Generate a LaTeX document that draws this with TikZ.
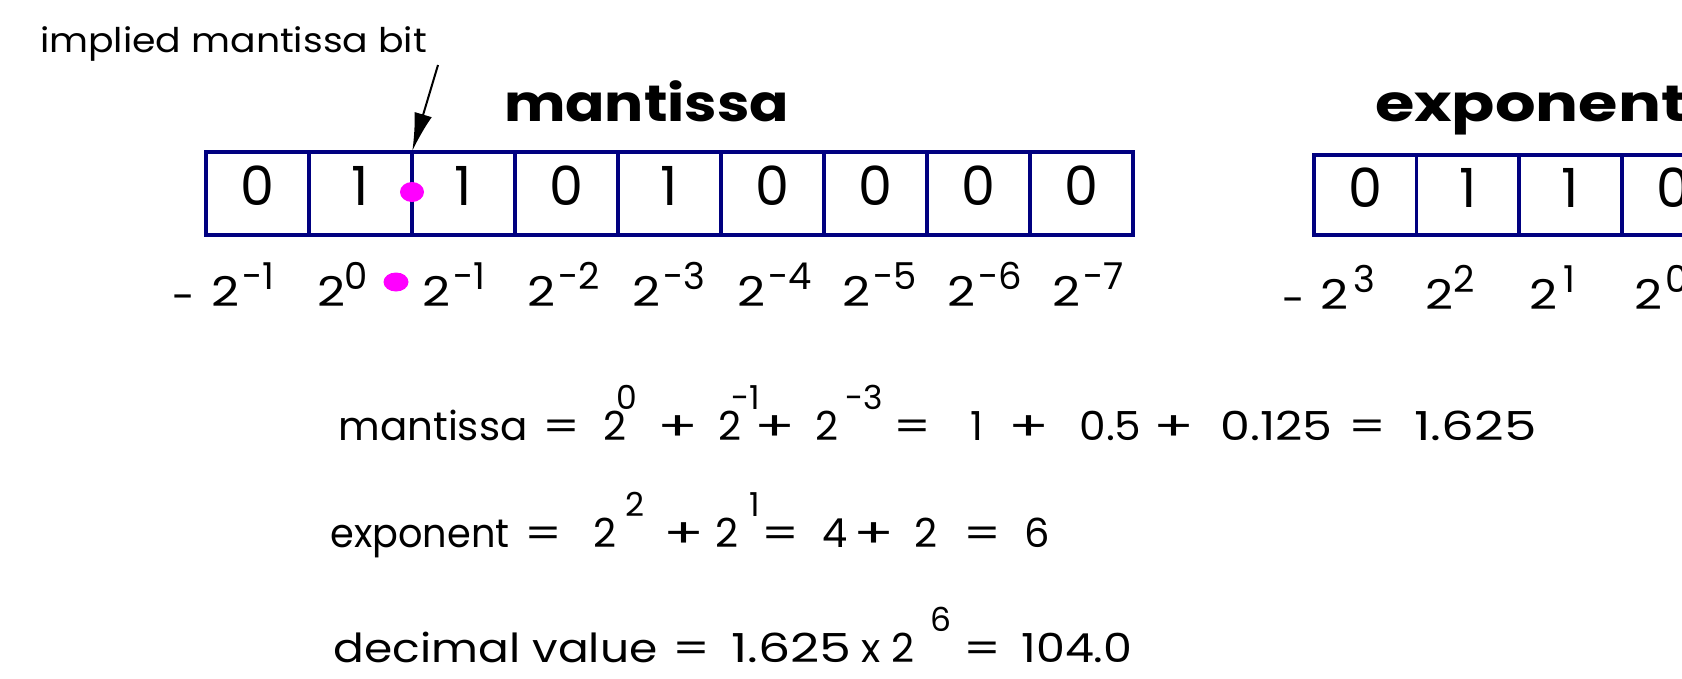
\documentclass[tikz,border=0pt]{standalone}
\usepackage{fontspec}
\setmainfont{Poppins}
\usetikzlibrary{arrows.meta}
\definecolor{navybox}{RGB}{0,0,128}
\definecolor{pinkdot}{RGB}{255,0,255}
\newcommand{\fitw}[2]{\resizebox{#1pt}{\height}{#2}}
\newcommand{\at}[2]{\rlap{\hspace*{#1pt}#2}}
\newcommand{\esup}[2]{\at{#1}{\raisebox{31pt}{\fontsize{33}{33}\selectfont #2}}}
\newcommand{\lsup}[2]{\at{#1}{\raisebox{17pt}{\fontsize{37}{37}\selectfont #2}}}
\newcommand{\EQ}[1]{\at{#1}{\fitw{38}{=}}}
\newcommand{\PL}[1]{\at{#1}{\fitw{41}{+}}}
\newcommand{\LT}{\at{0}{\fitw{28}{2}}}
\begin{document}
\begin{tikzpicture}[x=1pt,y=-1pt,
  cell/.style={draw=navybox, line width=3.5pt, minimum width=103pt, minimum height=83pt,
    inner sep=0pt, outer sep=0pt, font=\fontsize{54}{54}\selectfont, text height=38pt, text depth=15pt},
  ecell/.style={cell, minimum width=102.6pt, minimum height=80pt, text depth=14pt},
  txt/.style={inner sep=0pt, outer sep=0pt, anchor=base west},
  eqn/.style={txt, font=\fontsize{40}{40}\selectfont},
  lab/.style={txt, font=\fontsize{41}{41}\selectfont},
  title/.style={txt, font=\fontsize{51}{51}\selectfont\bfseries},
  dot/.style={fill=pinkdot}]
\useasboundingbox (0,0) rectangle (1682,678);
\clip (0,0) rectangle (1682,678);

% annotation
\node[txt, font=\fontsize{34}{34}\selectfont] (imp) at (40,52) {\fitw{387}{implied mantissa bit}};

% titles
\node[title] (tman) at (504,121) {\fitw{285}{mantissa}};
\node[title] (texp) at (1375,121) {\fitw{312}{exponent}};

% mantissa cells
\foreach \d [count=\i from 0] in {0,1,1,0,1,0,0,0,0}
  \node[cell] (m\i) at ({257.5+103*\i},193.5) {\d};
% exponent cells
\foreach \d [count=\i from 0] in {0,1,1,0}
  \node[ecell] (e\i) at ({1365.3+102.6*\i},195) {\d};

% arrow
\coordinate (arrowtail) at (438,65);
\draw[line width=2pt, -{Latex[length=38pt,width=18pt]}, shorten >=1pt] (arrowtail) -- (m1.north east);

% dots
\fill[dot] ([yshift=1.5pt]m1.east) ellipse [x radius=12, y radius=10];
\fill[dot] (396,282) ellipse [x radius=12.5, y radius=9.5];

% mantissa labels
\node[lab] (mneg) at (172,311) {-};
\node[lab] (l0) at (211,306) {\LT\lsup{31}{-1}};
\node[lab] (l1) at (317,306) {\LT\lsup{27}{0}};
\node[lab] (l2) at (422,306) {\LT\lsup{31}{-1}};
\node[lab] (l3) at (527,306) {\LT\lsup{31}{-2}};
\node[lab] (l4) at (632,306) {\LT\lsup{31}{-3}};
\node[lab] (l5) at (737,306) {\LT\lsup{31}{-4}};
\node[lab] (l6) at (842,306) {\LT\lsup{31}{-5}};
\node[lab] (l7) at (947,306) {\LT\lsup{31}{-6}};
\node[lab] (l8) at (1052,306) {\LT\lsup{31}{-7}};

% exponent labels
\node[lab] (eneg) at (1282,314) {-};
\node[lab] (x0) at (1320,309) {\LT\lsup{33}{3}};
\node[lab] (x1) at (1425,309) {\LT\lsup{28}{2}};
\node[lab] (x2) at (1529,309) {\LT\lsup{34}{1}};
\node[lab] (x3) at (1634,309) {\LT\lsup{31}{0}};

% equations
\node[eqn] (eq1) at (338,440) {\at{0}{\fitw{189}{mantissa}}\EQ{204}\at{265}{2}\esup{278}{0}\PL{319}%
  \at{380}{2}\esup{393}{-1}\PL{416}\at{477}{2}\esup{507}{-3}\EQ{555}\at{632}{1}\PL{670}%
  \at{741}{\fitw{62}{0.5}}\PL{815}\at{882}{\fitw{112}{0.125}}\EQ{1010}\at{1076}{\fitw{122}{1.625}}};
\node[eqn] (eq2) at (330,547) {\at{0}{\fitw{179}{exponent}}\EQ{194}\at{263}{2}\esup{295}{2}\PL{333}%
  \at{385}{2}\esup{419}{1}\EQ{431}\at{492}{4}\PL{523}\at{584}{2}\EQ{633}\at{694}{6}};
\node[eqn] (eq3) at (333,662) {\at{0}{\fitw{324}{decimal value}}\EQ{339}\at{398}{\fitw{120}{1.625}}%
  \at{528}{x}\at{558}{2}\esup{597}{6}\EQ{630}\at{688}{\fitw{111}{104.0}}};
\end{tikzpicture}
\end{document}
